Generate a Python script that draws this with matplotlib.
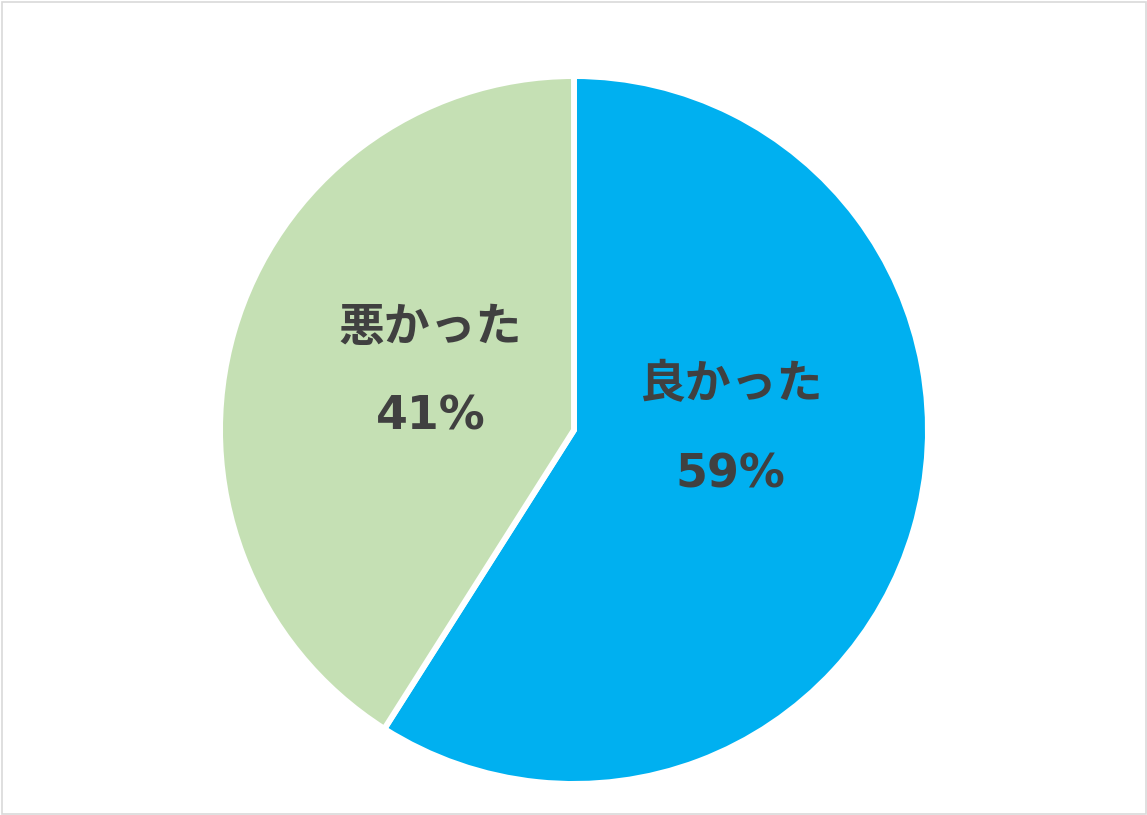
import matplotlib
matplotlib.use("Agg")
import matplotlib.pyplot as plt
from matplotlib.patches import Rectangle

plt.rcParams['font.family'] = ['Noto Sans CJK JP', 'DejaVu Sans']

categories = ["良かった", "悪かった"]
values = [59, 41]
colors = ["#00B0F0", "#C5E0B4"]

W, H, DPI = 1147, 815, 100
fig = plt.figure(figsize=(W / DPI, H / DPI), dpi=DPI)
fig.patch.set_facecolor("white")
fig.add_artist(Rectangle((1.5 / W, 1.5 / H), 1 - 3 / W, 1 - 3 / H, transform=fig.transFigure,
                         fill=False, edgecolor="#D9D9D9", linewidth=1.2))

cx, cy, r = 574, 430, 354
ax = fig.add_axes([(cx - r) / W, (H - cy - r) / H, 2 * r / W, 2 * r / H])
ax.pie(values, colors=colors, startangle=90, counterclock=False,
       wedgeprops=dict(edgecolor="white", linewidth=4.3), radius=1.0)
ax.set_xlim(-1, 1)
ax.set_ylim(-1, 1)
ax.set_aspect("equal")
ax.axis("off")

# label centres (fraction of radius)
label_pos = [(0.442, 0.0), (-0.405, 0.163)]
for cat, v, (lx, ly) in zip(categories, values, label_pos):
    ax.text(lx, ly + 0.126, cat, ha="center", va="center", fontsize=33,
            fontweight="bold", color="#404040")
    ax.text(lx, ly - 0.126, f"{v}%", ha="center", va="center", fontsize=33,
            fontweight="bold", color="#404040", family="DejaVu Sans")

fig.savefig("out.png", dpi=DPI, facecolor="white")
